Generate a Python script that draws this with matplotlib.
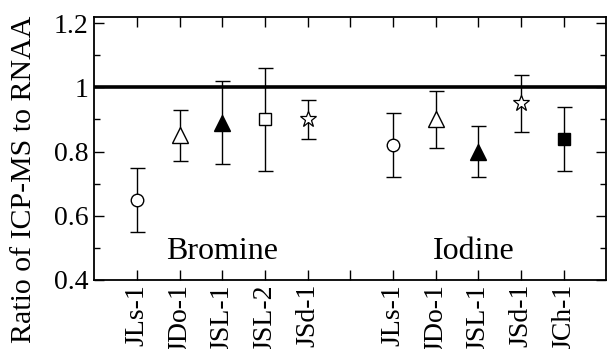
import matplotlib
matplotlib.use("Agg")
from matplotlib import pyplot as plt
from matplotlib.ticker import MultipleLocator

plt.rcParams['font.family'] = ['Liberation Serif', 'DejaVu Serif']

# Data
br_samples = ["JLs-1", "JDo-1", "JSL-1", "JSL-2", "JSd-1"]
br_ratio = [0.65, 0.85, 0.89, 0.90, 0.90]
br_err = [0.10, 0.08, 0.13, 0.16, 0.06]

i_samples = ["JLs-1", "JDo-1", "JSL-1", "JSd-1", "JCh-1"]
i_ratio = [0.82, 0.90, 0.80, 0.95, 0.84]
i_err = [0.10, 0.09, 0.08, 0.09, 0.10]

# marker style per sample (marker, filled)
sample_style = {
    "JLs-1": ("o", False),
    "JDo-1": ("^", False),
    "JSL-1": ("^", True),
    "JSL-2": ("s", False),
    "JSd-1": ("*", False),
    "JCh-1": ("s", True),
}
marker_size = {"o": 9, "^": 11, "s": 9, "*": 12}

fig = plt.figure(figsize=(6.08, 3.49), dpi=100)
ax = fig.add_axes([0.155, 0.198, 0.842, 0.754])

ax.axhline(1.0, color="black", lw=2.6, zorder=1)

# bromine at 1..5, gap at 6, iodine at 7..11
groups = [(br_samples, br_ratio, br_err, 1), (i_samples, i_ratio, i_err, 7)]
tick_pos = []
tick_lab = []
for samples, ratio, err, start in groups:
    for k in range(len(samples)):
        x = start + k
        m, filled = sample_style[samples[k]]
        ax.errorbar(x, ratio[k], yerr=err[k], fmt="none", ecolor="black",
                    elinewidth=1.0, capsize=5.4, capthick=1.0, zorder=2)
        ax.plot(x, ratio[k], marker=m, ms=marker_size[m],
                mfc="black" if filled else "white", mec="black",
                mew=0.9 if m == "*" else 1.0, ls="none", zorder=3)
        tick_pos.append(x)
        tick_lab.append(samples[k])
tick_pos.append(6)
tick_lab.append("")

ax.set_xlim(0, 12)
ax.set_ylim(0.4, 1.22)
ax.set_xticks(tick_pos)
ax.set_xticklabels(tick_lab, rotation=90, fontsize=20)
ax.yaxis.set_minor_locator(MultipleLocator(0.1))
ax.set_yticks([0.4, 0.6, 0.8, 1.0, 1.2])
ax.set_yticklabels(["0.4", "0.6", "0.8", "1", "1.2"], fontsize=20)

ax.tick_params(which="both", direction="in", top=True, right=True, width=1.0)
ax.tick_params(which="major", length=7, pad=4)
ax.tick_params(which="minor", length=4)
ax.tick_params(axis="x", pad=3)
for s in ax.spines.values():
    s.set_linewidth(1.3)

ax.set_ylabel("Ratio of ICP-MS to RNAA", fontsize=21.5)
ax.yaxis.set_label_coords(-0.112, 0.384)

ax.text(3.0, 0.487, "Bromine", fontsize=23, ha="center", va="center")
ax.text(8.9, 0.487, "Iodine", fontsize=23, ha="center", va="center")

fig.savefig("out.png", dpi=100)
